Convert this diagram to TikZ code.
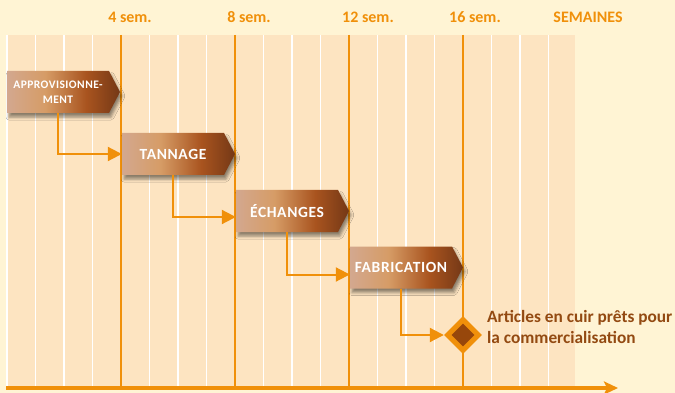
\documentclass[tikz,border=0pt]{standalone}
\usepackage{fontspec}
\setmainfont{Carlito}
\newfontfamily\boxfont[LetterSpace=4]{Carlito}
\usetikzlibrary{arrows.meta,shapes.geometric,shadows.blur}
\definecolor{cream}{HTML}{FFF4D4}
\definecolor{peach}{HTML}{FDE4C1}
\definecolor{ora}{HTML}{F0900A}
\definecolor{brn}{HTML}{934A12}
\definecolor{msbrn}{HTML}{97470B}
\definecolor{tA}{HTML}{D3A88F}
\definecolor{tB}{HTML}{D69C66}
\definecolor{tC}{HTML}{A9541F}
\definecolor{tD}{HTML}{743816}
\pgfdeclarehorizontalshading{taskshade}{100bp}{color(0bp)=(tA); color(25bp)=(tA); color(42bp)=(tB); color(60bp)=(tC); color(75bp)=(tD); color(100bp)=(tD)}
\tikzset{
  hdr/.style={text=ora, font=\bfseries\fontsize{16}{18}\selectfont, inner sep=0},
  taskfill/.style={shading=taskshade, blur shadow={shadow xshift=2pt, shadow yshift=-4pt, shadow blur radius=3pt, shadow opacity=45}},
  tasktext/.style={text=white, font=\boxfont\bfseries\fontsize{15.5}{17}\selectfont, minimum width=102pt, minimum height=42pt, inner sep=0, align=center},
  smalltext/.style={font=\boxfont\bfseries\fontsize{11.5}{15}\selectfont},
  conn/.style={ora, line width=2pt, -{Triangle[length=14pt,width=14pt]}},
  gridw/.style={white, line width=1.5pt},
  grido/.style={ora, line width=2pt},
}
\newcommand\taskbox[5][]{%
  \path[taskfill] (#3,#4-21) -- (#3+102,#4-21) -- (#3+113,#4) -- (#3+102,#4+21) -- (#3,#4+21) -- cycle;
  \node[tasktext,#1] (#2) at (#3+51,#4) {#5};
}
\begin{document}
\begin{tikzpicture}[x=1pt,y=-1pt]
\fill[cream] (0,0) rectangle (675,393);
\useasboundingbox (0,0) rectangle (675,393);
\fill[peach] (7,35) rectangle (575,388);
\foreach \i in {0,...,19} {\draw[gridw] ({7+28.5*\i},35) -- ({7+28.5*\i},388);}
\foreach \i in {4,8,12,16} {\draw[grido] ({7+28.5*\i},35) -- ({7+28.5*\i},388);}
\coordinate (ax0) at (6,388);
\coordinate (ax1) at (618,388);
\draw[ora, line width=4pt, -{Stealth[length=14pt,width=13pt,inset=3pt]}] (ax0) -- (ax1);

\node[hdr] (h4) at (130,17.5) {4 sem.};
\node[hdr] (h8) at (249,17.5) {8 sem.};
\node[hdr] (h12) at (368,17.5) {12 sem.};
\node[hdr] (h16) at (475,17.5) {16 sem.};
\node[hdr] (hs) at (588,17.5) {SEMAINES};

\taskbox[smalltext]{app}{7}{92}{APPROVISIONNE-\\MENT}
\taskbox{tan}{122}{154}{TANNAGE}
\taskbox{ech}{236}{211}{ÉCHANGES}
\taskbox{fab}{350}{267.5}{FABRICATION}

\node[diamond, fill=ora, minimum width=38pt, minimum height=38pt, inner sep=0] (ms) at (463,335) {};
\node[diamond, fill=msbrn, minimum width=23pt, minimum height=23pt, inner sep=0] (msi) at (ms.center) {};
\node[anchor=west, align=left, text=brn, inner sep=0, font=\bfseries\fontsize{17.3}{21}\selectfont] (mst) at (487,326.5) {Articles en cuir prêts pour\\la commercialisation};

\draw[conn] (app.south) |- (tan.west);
\draw[conn] (tan.south) |- ([yshift=-6pt]ech.west);
\draw[conn] (ech.south) |- ([yshift=-7pt]fab.west);
\draw[conn] (fab.south) |- (ms.west);
\end{tikzpicture}
\end{document}
